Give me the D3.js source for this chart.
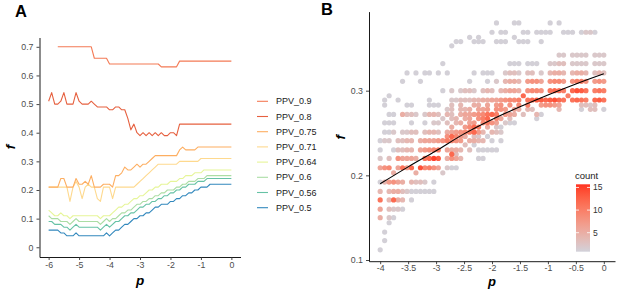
<!DOCTYPE html>
<html>
<head>
<meta charset="utf-8">
<script src="https://cdn.jsdelivr.net/npm/d3@7"></script>
<style>
  body { margin: 0; background: #fff; }
  svg { display: block; font-family: "Liberation Sans", Arial, sans-serif; }
</style>
</head>
<body>
<div id="chart"></div>
<script>
const width = 617
const height = 289

// ---------- Panel A data ----------
// p grid from -6 to 0 in steps of 0.1 (61 samples per series)
const pGrid = d3.range(61).map(i => -6 + i / 10)

const seriesNames = ["PPV_0.9", "PPV_0.8", "PPV_0.75", "PPV_0.71", "PPV_0.64", "PPV_0.6", "PPV_0.56", "PPV_0.5"]
const seriesColors = ["#F47A55", "#E6603F", "#FDAE61", "#FED98E", "#E6F598", "#ABDDA4", "#66C2A5", "#3288BD"]

const ppv09 = [null, null, null, .70, .70, .70, .70, .70, .70, .70,
  .70, .70, .70, .70, .70, .66, .66, .66, .66, .66,
  .64, .64, .64, .64, .64, .64, .64, .64, .64, .64,
  .64, .64, .64, .64, .64, .64, .64, .63, .63, .63,
  .63, .63, .63, .65, .65, .65, .65, .65, .65, .65,
  .65, .65, .65, .65, .65, .65, .65, .65, .65, .65, .65]
const ppv08 = [.51, .54, .50, .50, .51, .54, .50, .50, .50, .54,
  .51, .50, .50, .50, .51, .50, .49, .49, .49, .49,
  .48, .48, .49, .49, .48, .48, .45, .41, .43, .40,
  .39, .40, .39, .40, .39, .40, .39, .40, .39, .39,
  .40, .40, .39, .43, .43, .43, .43, .43, .43, .43,
  .43, .43, .43, .43, .43, .43, .43, .43, .43, .43, .43]
const ppv075 = [.21, .21, .21, .21, .24, .24, .21, .21, .21, .24,
  .22, .22, .23, .22, .25, .21, .21, .21, .22, .22,
  .22, .21, .25, .25, .26, .28, .27, .27, .28, .29,
  .28, .29, .29, .30, .31, .32, .32, .32, .32, .32,
  .32, .32, .32, .34, .35, .34, .34, .34, .34, .35,
  .35, .35, .35, .35, .35, .35, .35, .35, .35, .35, .35]
const ppv071 = [.21, .21, .21, .21, .21, .21, .21, .16, .21, .23,
  .21, .17, .21, .22, .21, .21, .17, .16, .21, .21,
  .21, .17, .21, .21, .21, .21, .21, .21, .21, .22,
  .23, .24, .25, .26, .27, .28, .29, .29, .29, .29,
  .29, .29, .29, .30, .30, .30, .30, .30, .30, .30,
  .31, .31, .31, .31, .31, .31, .31, .31, .31, .31, .31]
const ppv064 = [.13, .12, .11, .11, .12, .11, .11, .10, .11, .11,
  .11, .11, .11, .11, .11, .11, .11, .10, .11, .11,
  .11, .12, .13, .14, .14, .15, .15, .16, .17, .17,
  .18, .18, .19, .20, .20, .21, .21, .22, .22, .22,
  .23, .23, .23, .24, .24, .25, .25, .25, .26, .26,
  .26, .27, .27, .27, .27, .27, .27, .27, .27, .27, .27]
const ppv06 = [.11, .10, .10, .10, .09, .09, .09, .08, .09, .10,
  .09, .09, .09, .09, .09, .09, .09, .08, .09, .10,
  .09, .10, .10, .11, .12, .12, .13, .13, .14, .15,
  .15, .16, .16, .17, .17, .18, .18, .19, .19, .20,
  .20, .20, .21, .21, .22, .22, .23, .23, .23, .24,
  .24, .24, .25, .25, .25, .25, .25, .25, .25, .25, .25]
const ppv056 = [.09, .09, .08, .08, .08, .07, .07, .06, .07, .08,
  .07, .07, .07, .07, .07, .07, .07, .06, .07, .08,
  .07, .08, .09, .09, .10, .11, .11, .12, .12, .13,
  .14, .14, .15, .15, .16, .16, .17, .17, .18, .18,
  .19, .19, .20, .20, .21, .21, .22, .22, .22, .23,
  .23, .23, .24, .24, .24, .24, .24, .24, .24, .24, .24]
const ppv05 = [.06, .06, .06, .06, .05, .05, .04, .04, .04, .05,
  .04, .04, .04, .04, .04, .04, .04, .04, .04, .05,
  .04, .05, .06, .06, .07, .08, .08, .09, .10, .10,
  .11, .11, .12, .12, .13, .14, .14, .15, .15, .15,
  .16, .16, .17, .17, .18, .18, .19, .19, .20, .20,
  .21, .21, .21, .22, .22, .22, .22, .22, .22, .22, .22]
const seriesValues = [ppv09, ppv08, ppv075, ppv071, ppv064, ppv06, ppv056, ppv05]

const xTicksA = [-6, -5, -4, -3, -2, -1, 0]
const yTicksA = [0, 0.1, 0.2, 0.3, 0.4, 0.5, 0.6, 0.7]

// ---------- Panel B data ----------
// 51 p columns from -4 to 0 (step 0.08); each row string gives the count per column
// ('.' = no point, hex digit = count)
const pColumns = d3.range(51).map(i => -4 + i * 0.08)
const fRows = [0.380, 0.369, 0.363, 0.358, 0.353, 0.342, 0.332, 0.321, 0.311, 0.300,
  0.294, 0.289, 0.283, 0.278, 0.272, 0.267, 0.262, 0.257, 0.251, 0.246,
  0.241, 0.236, 0.230, 0.225, 0.220, 0.209, 0.203, 0.192, 0.181, 0.171,
  0.160, 0.150, 0.144, 0.133, 0.123, 0.112]
const countRows = [
  ".......... .......... ......1... 11......1. 1......... .",
  ".......... .......... .....1.11. ..11.1111. .111.1221. .",
  ".......... .......... 1.1....... 1......... .......... .",
  ".......... .......11. .111..111. .111..1... .......... .",
  ".......... ......1... .......... .......... .......... .",
  ".......... .......... .......... .......... 22.2222.22 2",
  ".......... ....1..... .........1 11.111..22 33.2222.22 2",
  "......1.1. 11.1.1.... .1.111..23 32.33.2.45 54.4554.34 3",
  ".....1...1 .......... 1...1.2.45 54.7886.89 97.8aa8.78 7",
  ".......... ....1.2.23 32.343.456 65.8998.bc ba.cedb.ab a",
  "..1....... .......... .......... ..c....... ..a....... .",
  ".1..1..... .1....2233 3445566789 9a.bcddcde cb.bcba.cd b",
  ".1....11.. .111..3.4. .55.6.78.8 .9.a..7887 6....3323. .",
  ".......... .....23.44 5.667.887. 65.43..... 4....1.33. 1",
  "..11.5332. 2443.43.56 6789bca.76 5.3..41... .......... .",
  ".......... ....2.34.5 6.8ac.96.3 .....1.... .......... .",
  ".111...1.. 1.22.3.45. 67.9a86.21 1......... .......... .",
  ".......... ......5..7 9ca.5.21.. .......... .......... .",
  ".112.2233. 3443.56789 ac74.432.. .......... .......... .",
  ".......... .....8c975 .32.1..... .......... .......... .",
  "122.3344.5 66678a987. 5544.1.1.. .......... .......... .",
  ".......... .........3 .1........ .......... .......... .",
  "1..13344.6 789a.6554. 3.11111... .......... .......... .",
  ".......... ......c3.. .......... .......... .......... .",
  "2.3.86665. bcfd.5864. ..11...... .......... .......... .",
  "689.6b7c.e 9a86.211.. .......... .......... .......... .",
  "...5....5. ....2..... .......... .......... .......... .",
  "147865.433 2.1....... .......... .......... .......... .",
  "4.45532111 111....... .......... .......... .......... .",
  "b.4c54.1.. .......... .......... .......... .......... .",
  "6.3221.... .......... .......... .......... .......... .",
  "5.21...... .......... .......... .......... .......... .",
  "..1....... .......... .......... .......... .......... .",
  ".1........ .......... .......... .......... .......... .",
  ".1........ .......... .......... .......... .......... .",
  "1......... .......... .......... .......... .......... ."
]
// smooth fit drawn in black
const fitP = [-4, -3.5, -3, -2.5, -2, -1.5, -1, -0.5, 0]
const fitF = [0.190, 0.210, 0.229, 0.249, 0.266, 0.281, 0.295, 0.308, 0.320]

const xTicksB = [-4, -3.5, -3, -2.5, -2, -1.5, -1, -0.5, 0]
const yTicksB = [0.1, 0.2, 0.3]
const countTicks = [5, 10, 15]

// ---------- SVG ----------
const svg = d3.select("#chart").append("svg")
  .attr("width", width)
  .attr("height", height)

function styleAxis(g) {
  g.attr("font-family", "Liberation Sans, Arial, sans-serif").attr("font-size", 8.8)
  g.select(".domain").attr("stroke", "#000").attr("stroke-width", 0.9)
  g.selectAll(".tick line").attr("stroke", "#333").attr("stroke-width", 0.9)
  g.selectAll(".tick text").attr("fill", "#4d4d4d")
}

// ===== Panel A =====
const xA = d3.scaleLinear().domain([-6.3, 0.3]).range([39.5, 240.5])
const yA = d3.scaleLinear().domain([-0.034, 0.7325]).range([257, 37.5])

const lineA = d3.line()
  .defined(d => d[1] != null)
  .x(d => xA(d[0]))
  .y(d => yA(d[1]))

const linesA = svg.append("g").attr("id", "linesA")
// draw from bottom series up so the upper ones sit on top
seriesValues.slice().reverse().forEach((vals, k) => {
  const idx = seriesValues.length - 1 - k
  linesA.append("path")
    .datum(pGrid.map((p, i) => [p, vals[i]]))
    .attr("fill", "none")
    .attr("stroke", seriesColors[idx])
    .attr("stroke-width", 1.1)
    .attr("stroke-linejoin", "round")
    .attr("d", lineA)
})

svg.append("g")
  .attr("transform", `translate(0, ${yA.range()[0]})`)
  .call(d3.axisBottom(xA).tickValues(xTicksA).tickSize(3).tickPadding(2).tickSizeOuter(0).tickFormat(d => String(d)))
  .call(styleAxis)

svg.append("g")
  .attr("transform", `translate(${xA.range()[0]}, 0)`)
  .call(d3.axisLeft(yA).tickValues(yTicksA).tickSize(3).tickPadding(3).tickSizeOuter(0).tickFormat(d => String(d)))
  .call(styleAxis)

// legend A
const legY = d3.scalePoint().domain(seriesNames).range([101.3, 207.7])
const legA = svg.append("g").attr("id", "legendA")
seriesNames.forEach((name, i) => {
  legA.append("line")
    .attr("x1", 257).attr("x2", 268)
    .attr("y1", legY(name)).attr("y2", legY(name))
    .attr("stroke", seriesColors[i])
    .attr("stroke-width", 1.1)
  legA.append("text")
    .attr("x", 276).attr("y", legY(name))
    .attr("dominant-baseline", "central")
    .attr("font-size", 9)
    .attr("fill", "#1a1a1a")
    .text(name)
})

// titles A
svg.append("text").attr("x", 15).attr("y", 17)
  .attr("font-size", 16.5).attr("font-weight", "bold").text("A")
svg.append("text").attr("x", xA(-3)).attr("y", 284.5)
  .attr("text-anchor", "middle").attr("font-size", 13.5)
  .attr("font-weight", "bold").attr("font-style", "italic").text("p")
svg.append("text")
  .attr("transform", `translate(15, ${yA(0.35)}) rotate(-90)`)
  .attr("text-anchor", "middle").attr("font-size", 13.5)
  .attr("font-weight", "bold").attr("font-style", "italic").text("f")

// ===== Panel B =====
const xB = d3.scaleLinear().domain([-4.2, 0.2]).range([369, 615])
const yB = d3.scaleLinear().domain([0.0986, 0.3934]).range([261.2, 11.6])

const countDomain = [0.8, 15.7]
const color = d3.scaleLinear().domain(countDomain)
  .range(["#D2D2DA", "#FF3322"])
  .interpolate(d3.interpolateLab)

const points = []
fRows.forEach((f, r) => {
  const s = countRows[r].replace(/ /g, "")
  for (let i = 0; i < s.length; i++) {
    if (s[i] !== ".") points.push({ p: pColumns[i], f: f, count: parseInt(s[i], 16) })
  }
})
points.sort((a, b) => a.count - b.count)

svg.append("g").attr("id", "pointsB")
  .selectAll("circle")
  .data(points)
  .enter()
  .append("circle")
  .attr("cx", d => xB(d.p))
  .attr("cy", d => yB(d.f))
  .attr("r", 2.6)
  .attr("fill", d => color(d.count))

const fitLine = d3.line()
  .x(d => xB(d[0]))
  .y(d => yB(d[1]))
  .curve(d3.curveMonotoneX)

svg.append("path")
  .datum(fitP.map((p, i) => [p, fitF[i]]))
  .attr("fill", "none")
  .attr("stroke", "#000")
  .attr("stroke-width", 1.1)
  .attr("d", fitLine)

svg.append("g")
  .attr("transform", `translate(0, ${yB.range()[0]})`)
  .call(d3.axisBottom(xB).tickValues(xTicksB).tickSize(3).tickPadding(1).tickSizeOuter(0).tickFormat(d => String(d)))
  .call(styleAxis)

svg.append("g")
  .attr("transform", `translate(${xB.range()[0]}, 0)`)
  .call(d3.axisLeft(yB).tickValues(yTicksB).tickSize(3).tickPadding(3).tickSizeOuter(0).tickFormat(d => String(d)))
  .call(styleAxis)

// colour bar legend
const yCount = d3.scaleLinear().domain(countDomain).range([251.7, 184.3])
const defs = svg.append("defs")
const grad = defs.append("linearGradient").attr("id", "countGrad")
  .attr("x1", 0).attr("y1", 1).attr("x2", 0).attr("y2", 0)
d3.range(11).forEach(k => {
  const t = k / 10
  grad.append("stop").attr("offset", t)
    .attr("stop-color", color(countDomain[0] + t * (countDomain[1] - countDomain[0])))
})
const bar = svg.append("g").attr("id", "legendB")
bar.append("rect")
  .attr("x", 576).attr("y", yCount.range()[1])
  .attr("width", 14).attr("height", yCount.range()[0] - yCount.range()[1])
  .attr("fill", "url(#countGrad)")
countTicks.forEach(v => {
  bar.append("line").attr("x1", 576).attr("x2", 579)
    .attr("y1", yCount(v)).attr("y2", yCount(v)).attr("stroke", "#fff").attr("stroke-width", 0.8)
  bar.append("line").attr("x1", 587).attr("x2", 590)
    .attr("y1", yCount(v)).attr("y2", yCount(v)).attr("stroke", "#fff").attr("stroke-width", 0.8)
  bar.append("text").attr("x", 593).attr("y", yCount(v))
    .attr("dominant-baseline", "central").attr("font-size", 8.5)
    .attr("fill", "#333").text(v)
})
bar.append("text").attr("x", 575).attr("y", 178.5)
  .attr("font-size", 9.5).attr("fill", "#1a1a1a").text("count")

// titles B
svg.append("text").attr("x", 321).attr("y", 15)
  .attr("font-size", 16.5).attr("font-weight", "bold").text("B")
svg.append("text").attr("x", xB(-2)).attr("y", 286.3)
  .attr("text-anchor", "middle").attr("font-size", 13)
  .attr("font-weight", "bold").attr("font-style", "italic").text("p")
svg.append("text")
  .attr("transform", `translate(345, ${yB(0.245)}) rotate(-90)`)
  .attr("text-anchor", "middle").attr("font-size", 13.5)
  .attr("font-weight", "bold").attr("font-style", "italic").text("f")
</script>
</body>
</html>
